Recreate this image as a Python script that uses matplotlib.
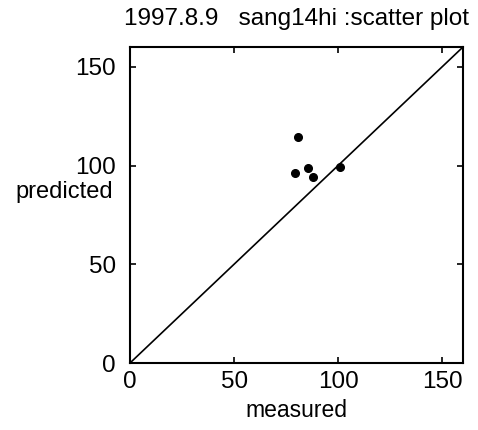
import matplotlib.pyplot as plt
import numpy as np

plt.rcParams['font.family'] = ['Liberation Sans', 'DejaVu Sans']

# 測定値と予測値
measured = [80.8, 79.3, 85.6, 88.0, 101.0]
predicted = [114.4, 96.2, 98.7, 94.2, 99.2]
ticks = [0, 50, 100, 150]
lim = 160

fig = plt.figure(figsize=(4.78, 4.30), dpi=100)
ax = fig.add_axes([130 / 478, (430 - 363) / 430, 333 / 478, 316 / 430])

line = np.array([0, lim])
ax.plot(line, line, color='black', lw=1.2)
ax.plot(measured, predicted, 'o', color='black', ms=5.5)

ax.set_xlim(0, lim)
ax.set_ylim(0, lim)
ax.set_xticks(ticks)
ax.set_yticks(ticks)
ax.tick_params(direction='in', top=True, right=True, length=4, width=1.2,
               labelsize=17.5)
ax.tick_params(axis='y', pad=10)
ax.tick_params(axis='x', pad=6)
for s in ax.spines.values():
    s.set_linewidth(1.5)

ax.set_title('1997.8.9   sang14hi :scatter plot', fontsize=17.5, pad=16)
ax.set_xlabel('measured', fontsize=16.5, labelpad=4)
ax.set_ylabel('predicted', fontsize=17, rotation=0, ha='right', va='center')
ax.yaxis.set_label_coords(-0.05, 0.54)

fig.savefig('out.png', dpi=100)
